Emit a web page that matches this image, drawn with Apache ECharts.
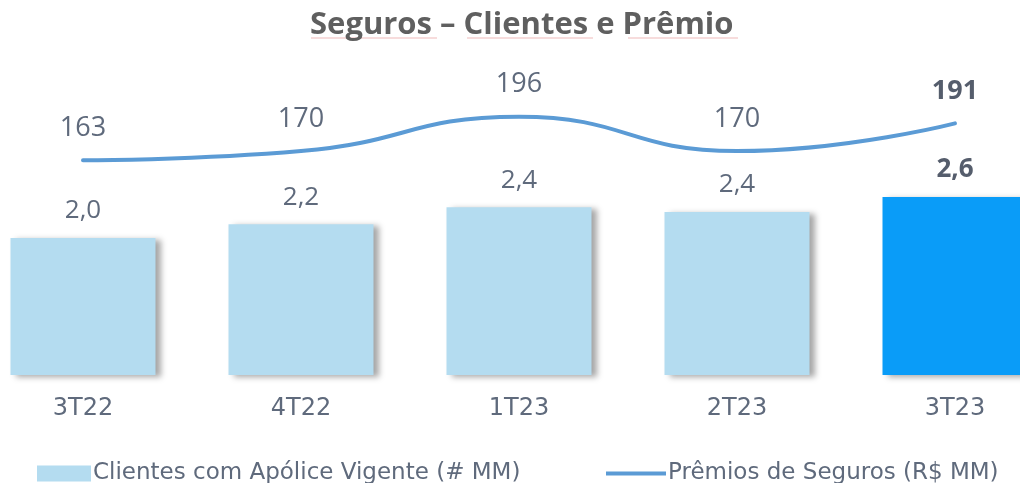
<!DOCTYPE html>
<html>
<head>
<meta charset="utf-8">
<script src="https://cdn.jsdelivr.net/npm/echarts@6/dist/echarts.min.js"></script>
<style>
  html, body { margin: 0; padding: 0; background: #fff; }
  #chart { width: 1020px; height: 483px; }
</style>
</head>
<body>
<div id="chart"></div>
<script>
// dados do gráfico
const categories = ["3T22", "4T22", "1T23", "2T23", "3T23"];
const clientes = [2.0, 2.2, 2.45, 2.38, 2.6];
const clientesLabels = ["2,0", "2,2", "2,4", "2,4", "2,6"];
const premios = [163, 170, 196, 170, 191];

const FONT = "Open Sans";
const WIDE = "DejaVu Sans";
const GRAY = "#5f6a7c";
const LIGHT = "#b4dcf0";
const STRONG = "#0a9cf8";
const LINE = "#5b9bd5";

const last = categories.length - 1;

// sublinhado do título (por palavra)
const underline = (x1, x2) => ({
  type: "line",
  shape: { x1: x1, y1: 38, x2: x2, y2: 38 },
  style: { stroke: "rgba(225,130,130,0.55)", lineWidth: 1 },
  silent: true,
});

const chart = echarts.init(document.getElementById("chart"));

chart.setOption({
  animation: false,
  title: {
    text: "Seguros – Clientes e Prêmio",
    left: 310,
    top: 10,
    padding: 0,
    textStyle: { fontFamily: FONT, fontSize: 31, fontWeight: "bold", color: "#5f5f5f" },
  },
  graphic: [underline(311, 437), underline(467, 593), underline(628, 738)],
  legend: [
    {
      data: [{ name: "Clientes com Apólice Vigente (# MM)", icon: "rect" }],
      left: 37,
      top: 462,
      padding: 0,
      itemWidth: 54,
      itemHeight: 16,
      itemGap: 4,
      textStyle: { fontFamily: WIDE, fontSize: 23, color: GRAY, padding: [0, 0, 0, -3] },
    },
    {
      data: [{ name: "Prêmios de Seguros (R$ MM)", icon: "rect" }],
      left: 606,
      top: 462,
      padding: 0,
      itemWidth: 60,
      itemHeight: 4,
      textStyle: { fontFamily: WIDE, fontSize: 23, color: GRAY, padding: [0, 0, 0, -3] },
    },
  ],
  grid: { left: -26, width: 1090, top: 32.5, bottom: 108, outerBoundsMode: "none", containLabel: false },
  xAxis: {
    type: "category",
    data: categories,
    axisLine: { show: false },
    axisTick: { show: false },
    axisLabel: { fontFamily: WIDE, fontSize: 24, color: GRAY, margin: 22 },
  },
  yAxis: [
    { type: "value", min: 0, max: 5, show: false },
    { type: "value", min: 0, max: 260, show: false },
  ],
  series: [
    {
      name: "Clientes com Apólice Vigente (# MM)",
      type: "bar",
      yAxisIndex: 0,
      barWidth: 145,
      data: clientes.map((v, i) => ({
        value: v,
        itemStyle: { color: i === last ? STRONG : LIGHT },
        label: i === last ? { fontWeight: "bold", color: "#555d6c" } : {},
      })),
      itemStyle: {
        color: LIGHT,
        shadowColor: "rgba(0,0,0,0.35)",
        shadowBlur: 6,
        shadowOffsetX: 5,
        shadowOffsetY: 2,
      },
      label: {
        show: true,
        position: "top",
        distance: 14,
        fontFamily: FONT,
        fontSize: 26,
        color: GRAY,
        formatter: (p) => clientesLabels[p.dataIndex],
      },
    },
    {
      name: "Prêmios de Seguros (R$ MM)",
      type: "line",
      yAxisIndex: 1,
      smooth: true,
      symbol: "circle",
      symbolSize: 1,
      lineStyle: { color: LINE, width: 4, cap: "round" },
      itemStyle: { color: LINE },
      data: premios.map((v, i) => ({
        value: v,
        label: i === last ? { fontWeight: "bold", color: "#555d6c" } : {},
      })),
      label: {
        show: true,
        position: "top",
        distance: 18,
        fontFamily: FONT,
        fontSize: 27,
        color: GRAY,
      },
    },
  ],
});

window.onresize = function () {
  chart.resize();
};
</script>
</body>
</html>
